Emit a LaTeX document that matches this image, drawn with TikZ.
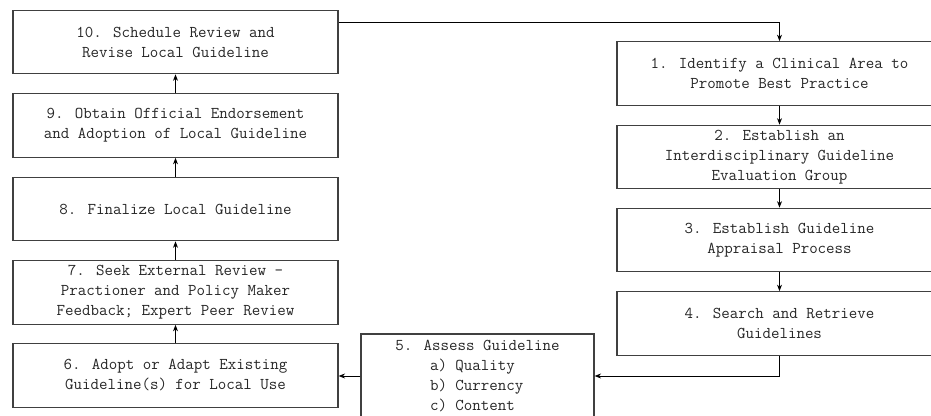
\documentclass[tikz,border=0pt]{standalone}
\usepackage{tikz}
\usetikzlibrary{positioning, arrows.meta}
\newcommand{\boxcolor}{black!75}
\newcommand{\labelcolor}{black!85}
\newcommand{\arrowcolor}{black}
\begin{document}
\begin{tikzpicture}[
      % GLOBAL CFG
      x=1pt, y=1pt,
      font=\ttfamily\fontsize{16.5}{20}\selectfont,
      >={Stealth[length=6.5pt,width=5pt]},
      % Styles
      stage/.style={% For the steps of the cycle
        rectangle,
        draw=\boxcolor,
        line width=1.2pt,
        text=\labelcolor,
        align=center,
        inner sep=0pt,
        minimum height=63.5pt,
        minimum width=325pt
      },
      assess/.style={% For the assessment box
        stage,
        align=left,
        minimum height=84pt,
        minimum width=233pt
      },
      arrowflow/.style={% Arrows between steps
        draw=\arrowcolor,
        line width=0.8pt,
        ->,
      }
      ]

      \path [use as bounding box, clip] (0,0) rectangle (931,415);

      % Right column: steps 1 to 4
      \node [stage] (step1) at (779.5,341.5) {1. Identify a Clinical Area to\\Promote Best Practice};
      \node [stage] (step2) at (779.5,258) {2. Establish an\\Interdisciplinary Guideline\\Evaluation Group};
      \node [stage] (step3) at (779.5,175) {3. Establish Guideline\\Appraisal Process};
      \node [stage] (step4) at (779.5,91.5) {4. Search and Retrieve\\Guidelines};
      \draw [arrowflow] (step1) -- (step2);
      \draw [arrowflow] (step2) -- (step3);
      \draw [arrowflow] (step3) -- (step4);

      % Assessment
      \node [assess] (step5) at (477.5,39) {5. Assess Guideline\\\hspace*{2.1em}a) Quality\\\hspace*{2.1em}b) Currency\\\hspace*{2.1em}c) Content};
      \draw [arrowflow] (step4.south) |- (step5.east);

      % Left column: steps 6 to 10
      \node [stage] (step6) at (175.5,39.5) {6. Adopt or Adapt Existing\\Guideline(s) for Local Use};
      \node [stage] (step7) at (175.5,122.5) {7. Seek External Review -\\Practioner and Policy Maker\\Feedback; Expert Peer Review};
      \node [stage] (step8) at (175.5,206) {8. Finalize Local Guideline};
      \node [stage] (step9) at (175.5,289.5) {9. Obtain Official Endorsement\\and Adoption of Local Guideline};
      \node [stage] (step10) at (175.5,373) {10. Schedule Review and\\Revise Local Guideline};
      \draw [arrowflow] (step5.west) -- (step5.west -| step6.east);
      \draw [arrowflow] (step6) -- (step7);
      \draw [arrowflow] (step7) -- (step8);
      \draw [arrowflow] (step8) -- (step9);
      \draw [arrowflow] (step9) -- (step10);

      % Back to the start
      \draw [arrowflow] ([yshift=20pt]step10.east) -| (step1.north);

    \end{tikzpicture}
\end{document}
